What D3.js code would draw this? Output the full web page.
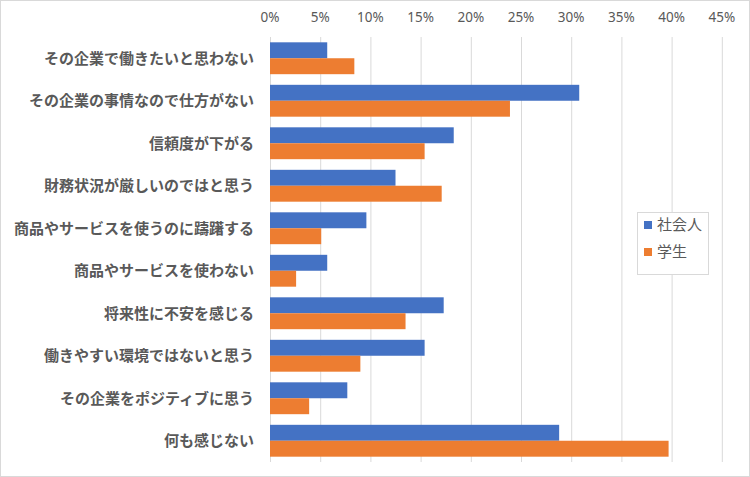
<!DOCTYPE html>
<html>
<head>
<meta charset="utf-8">
<script src="https://cdn.jsdelivr.net/npm/d3@7"></script>
<style>
  body { margin: 0; background: #fff; }
  svg { display: block; font-family: "Noto Sans CJK JP", sans-serif; }
</style>
</head>
<body>
<div id="chart"></div>
<script>
const categories = [
  "その企業で働きたいと思わない",
  "その企業の事情なので仕方がない",
  "信頼度が下がる",
  "財務状況が厳しいのではと思う",
  "商品やサービスを使うのに躊躇する",
  "商品やサービスを使わない",
  "将来性に不安を感じる",
  "働きやすい環境ではないと思う",
  "その企業をポジティブに思う",
  "何も感じない"
];
const seriesNames = ["社会人", "学生"];
const shakaijin = [5.7, 30.8, 18.3, 12.5, 9.6, 5.7, 17.3, 15.4, 7.7, 28.8];
const gakusei = [8.4, 23.9, 15.4, 17.1, 5.1, 2.6, 13.5, 9.0, 3.9, 39.7];
const ticks = [0, 5, 10, 15, 20, 25, 30, 35, 40, 45];

const W = 750, H = 477;
const margin = { top: 37, right: 28, bottom: 15, left: 270 };
const width = W - margin.left - margin.right;
const height = H - margin.top - margin.bottom;
const colors = ["#4472C4", "#ED7D31"];

const svg = d3.select("#chart")
  .append("svg")
  .attr("width", W)
  .attr("height", H);

// chart frame
svg.append("rect")
  .attr("x", 0.5).attr("y", 0.5)
  .attr("width", W - 1).attr("height", H - 1)
  .attr("fill", "#fff")
  .attr("stroke", "#d9d9d9");

const g = svg.append("g")
  .attr("transform", `translate(${margin.left},${margin.top})`);

const x = d3.scaleLinear().domain([0, 45]).range([0, 451.8]);
const y = d3.scaleBand().domain(categories).range([0, height]).paddingInner(0.25).paddingOuter(0.125);
const ySub = d3.scaleBand().domain(seriesNames).range([0, y.bandwidth()]);

// gridlines
g.selectAll(".grid")
  .data(ticks)
  .join("line")
  .attr("x1", d => x(d) + 0.5)
  .attr("x2", d => x(d) + 0.5)
  .attr("y1", 0)
  .attr("y2", height)
  .attr("stroke", "#d9d9d9");

// top axis labels
g.selectAll(".tick-label")
  .data(ticks)
  .join("text")
  .attr("x", d => x(d))
  .attr("y", -15)
  .attr("text-anchor", "middle")
  .style("font-family", "'Noto Sans', sans-serif")
  .style("font-size", "13.5px")
  .attr("fill", "#595959")
  .text(d => d + "%");

const data = categories.map((c, i) => ({ cat: c, values: [shakaijin[i], gakusei[i]] }));

const groups = g.selectAll(".group")
  .data(data)
  .join("g")
  .attr("transform", d => `translate(0,${y(d.cat)})`);

groups.selectAll("rect")
  .data(d => d.values.map((v, j) => ({ key: seriesNames[j], v, j })))
  .join("rect")
  .attr("x", 0)
  .attr("y", d => ySub(d.key))
  .attr("width", d => x(d.v))
  .attr("height", ySub.bandwidth())
  .attr("fill", d => colors[d.j]);

// category labels
g.selectAll(".cat-label")
  .data(categories)
  .join("text")
  .attr("x", -16)
  .attr("y", d => y(d) + y.bandwidth() / 2)
  .attr("dy", "0.35em")
  .attr("text-anchor", "end")
  .style("font-size", "15px")
  .style("font-weight", "bold")
  .attr("fill", "#595959")
  .text(d => d);

// legend
const legend = svg.append("g").attr("transform", "translate(637,212)");
legend.append("rect")
  .attr("x", 0.5).attr("y", 0.5)
  .attr("width", 71).attr("height", 62)
  .attr("fill", "#fff")
  .attr("stroke", "#d9d9d9");

seriesNames.forEach((s, i) => {
  const item = legend.append("g").attr("transform", `translate(7,${13 + i * 27})`);
  item.append("rect")
    .attr("x", 0).attr("y", -4)
    .attr("width", 8).attr("height", 8)
    .attr("fill", colors[i]);
  item.append("text")
    .attr("x", 13)
    .attr("y", 0)
    .attr("dy", "0.35em")
    .style("font-size", "15px")
    .attr("fill", "#595959")
    .text(s);
});
</script>
</body>
</html>
